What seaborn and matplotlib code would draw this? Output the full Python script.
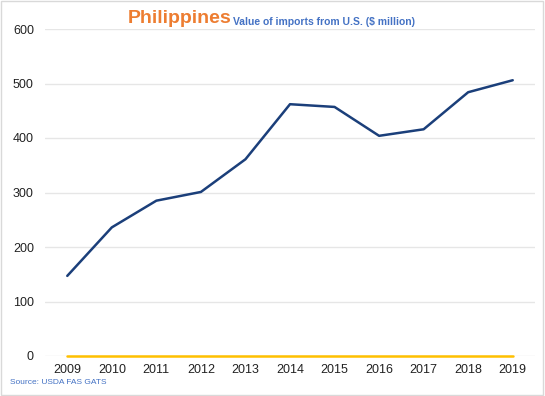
import matplotlib
matplotlib.use('Agg')
import matplotlib.pyplot as plt
import pandas as pd
import seaborn as sns
from matplotlib.patches import Rectangle

years = [2009, 2010, 2011, 2012, 2013, 2014, 2015, 2016, 2017, 2018, 2019]
imports_us = [147, 236, 285, 301, 361, 462, 457, 404, 416, 484, 506]
other_series = [0, 0, 0, 0, 0, 0, 0, 0, 0, 0, 0]
yticks = [0, 100, 200, 300, 400, 500, 600]

sns.set_theme(style='white')
plt.rcParams['font.family'] = ['Liberation Sans', 'DejaVu Sans']

df = pd.DataFrame({'year': [str(y) for y in years],
                   'imports': imports_us,
                   'other': other_series})

fig = plt.figure(figsize=(5.45, 3.96), dpi=100)
ax = fig.add_axes([45 / 545, 1 - 356 / 396, 490 / 545, 327 / 396])

sns.lineplot(data=df, x='year', y='other', ax=ax, color='#FFC000',
             linewidth=1.8, sort=False)
sns.lineplot(data=df, x='year', y='imports', ax=ax, color='#1B3F7A',
             linewidth=1.8, sort=False)
for ln in ax.lines:
    ln.set_clip_on(False)

ax.set_xlim(-0.5, len(years) - 0.5)
ax.set_ylim(0, 600)
ax.set_yticks(yticks)
ax.yaxis.grid(True, color='#E6E6E6', linewidth=1)
ax.set_axisbelow(True)
for s in ax.spines.values():
    s.set_visible(False)
ax.set_xlabel('')
ax.set_ylabel('')
ax.tick_params(axis='both', labelsize=9, colors='#222222', length=0)
ax.tick_params(axis='y', pad=8)
ax.tick_params(axis='x', pad=6)

t1 = fig.text(128 / 545, 1 - 23 / 396, 'Philippines', color='#ED7D31',
              fontsize=14, fontweight='bold', ha='left', va='baseline')
ax.annotate('Value of imports from U.S. ($ million)', xy=(1, 0),
            xycoords=t1, xytext=(1, 0), textcoords='offset points',
            color='#4472C4', fontsize=7.5, fontweight='bold',
            ha='left', va='bottom', annotation_clip=False)
fig.text(10 / 545, 1 - 382 / 396, 'Source: USDA FAS GATS', color='#4472C4',
         fontsize=6, ha='left', va='center')

fig.patches.append(Rectangle((0.002, 0.003), 0.995, 0.994,
                             transform=fig.transFigure, fill=False,
                             edgecolor='#D9D9D9', linewidth=1))

fig.savefig('out.png', dpi=100)
